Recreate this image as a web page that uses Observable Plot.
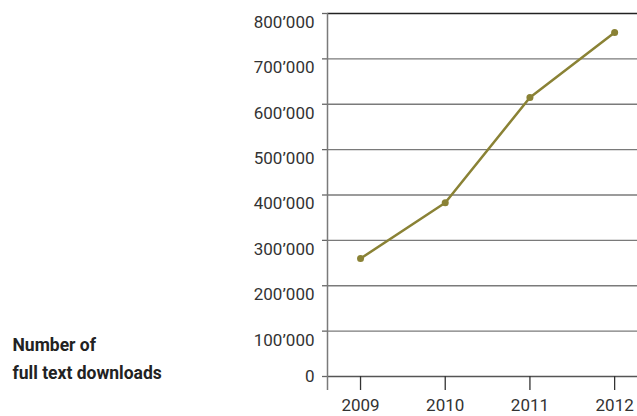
<!DOCTYPE html>
<html>
<head>
<meta charset="utf-8">
<script src="https://cdn.jsdelivr.net/npm/d3@7"></script>
<script src="https://cdn.jsdelivr.net/npm/@observablehq/plot@0.6"></script>
<style>
  html, body { margin: 0; padding: 0; background: #fff; }
</style>
</head>
<body>
<div id="chart"></div>
<script>
const years = [2009, 2010, 2011, 2012];
const downloads = [260000, 383000, 615000, 758000];
const yTicks = [0, 100000, 200000, 300000, 400000, 500000, 600000, 700000, 800000];
const yTickLabels = ["0", "100’000", "200’000", "300’000", "400’000", "500’000", "600’000", "700’000", "800’000"];
const axisTitle = "Number of\nfull text downloads";

const data = years.map((year, i) => ({year, value: downloads[i]}));
const xDomain = [2008.61, 2012.27];
const olive = "#8a8235";

const chart = Plot.plot({
  width: 637,
  height: 416,
  marginLeft: 327,
  marginRight: 0,
  marginTop: 13,
  marginBottom: 40,
  x: {domain: xDomain, axis: null, label: null},
  y: {domain: [0, 800000], axis: null, label: null},
  style: {fontFamily: "Roboto, sans-serif", fontSize: "17px", color: "#333", background: "#fff"},
  marks: [
    Plot.ruleY(yTicks.filter(d => d > 0 && d < 800000), {stroke: "#7a7a7a", strokeWidth: 1.3}),
    Plot.ruleY([800000], {stroke: "#222", strokeWidth: 1.3}),
    Plot.ruleY([0], {stroke: "#555", strokeWidth: 1.3}),
    Plot.axisY(yTicks, {tickSize: 5, tickFormat: () => "", label: null, stroke: "#666", strokeWidth: 1.3}),
    Plot.ruleX([xDomain[0]], {y1: -31000, y2: 800000, stroke: "#7a7a7a", strokeWidth: 1.5}),
    Plot.axisX(years, {tickSize: 14, tickPadding: 8, tickFormat: d => String(d), label: null, fontSize: 17, stroke: "#333", strokeWidth: 1.3}),
    Plot.text(yTicks.slice(1), {y: d => d, text: d => yTickLabels[yTicks.indexOf(d)], frameAnchor: "left", dx: -13, dy: 9, textAnchor: "end", fontSize: 17, fill: "#333"}),
    Plot.text([0], {y: d => d, text: d => yTickLabels[0], frameAnchor: "left", dx: -13, dy: 0, textAnchor: "end", fontSize: 17, fill: "#333"}),
    Plot.text([axisTitle], {frameAnchor: "bottom-left", dx: -315, dy: -20, textAnchor: "start", lineAnchor: "middle", lineHeight: 1.6, fontSize: 17.5, fontWeight: "bold", fill: "#222"}),
    Plot.line(data, {x: "year", y: "value", stroke: olive, strokeWidth: 2.5}),
    Plot.dot(data, {x: "year", y: "value", r: 3.5, fill: olive, stroke: "none"})
  ]
});
document.getElementById("chart").appendChild(chart);
</script>
</body>
</html>
